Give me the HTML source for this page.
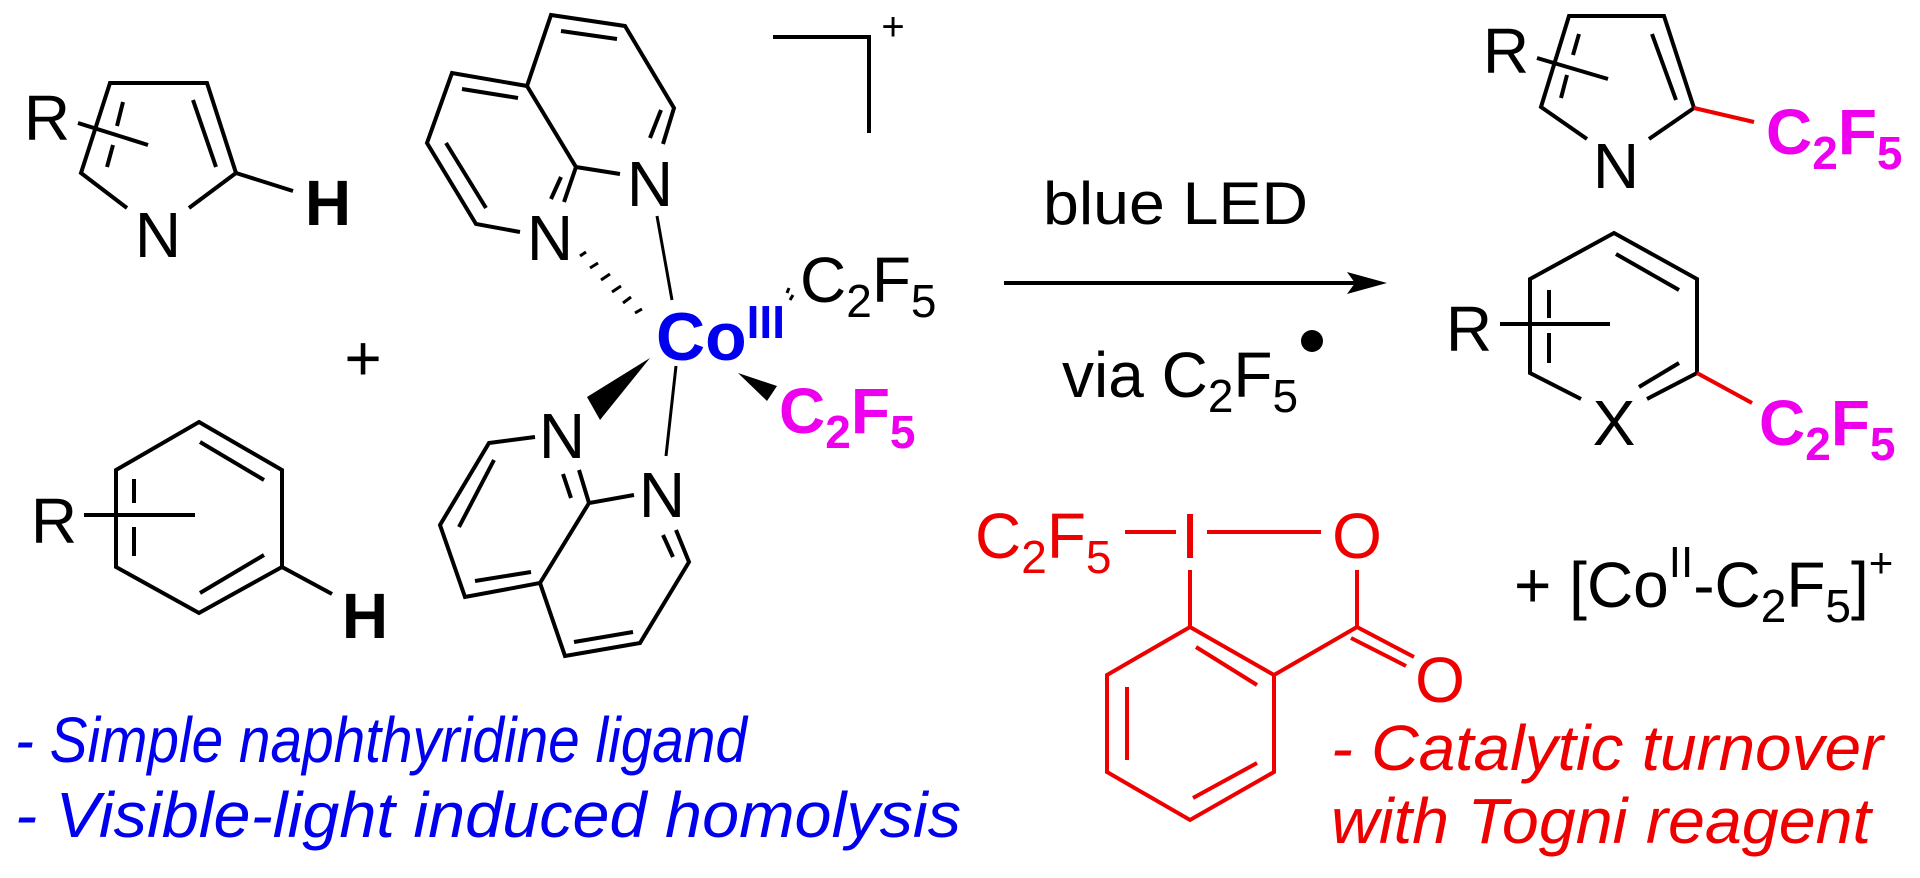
<!DOCTYPE html>
<html><head><meta charset="utf-8"><style>
html,body{margin:0;padding:0;background:#fff;}
svg{display:block;}
text{font-family:"Liberation Sans",Arial,sans-serif;}
</style></head><body>
<svg width="1920" height="878" viewBox="0 0 1920 878" xmlns="http://www.w3.org/2000/svg">
<g stroke="#000" stroke-width="4" fill="none" stroke-linecap="butt">
<!-- reactant pyrrole -->
<polyline points="127,208 81,173 110,83 207,83 236,173 189,208"/>
<line x1="123" y1="102" x2="117" y2="126"/><line x1="113" y1="145" x2="107" y2="167"/>
<line x1="193" y1="100" x2="216" y2="167"/>
<line x1="78" y1="123" x2="148" y2="145"/>
<line x1="236" y1="173" x2="293" y2="191"/>
<!-- reactant benzene -->
<polygon points="199,422 282,470 282,567 199,613 116,567 116,470"/>
<line x1="200" y1="442" x2="264" y2="480"/><line x1="264" y1="555" x2="200" y2="593"/>
<line x1="134" y1="479" x2="134" y2="503"/><line x1="134" y1="527" x2="134" y2="556"/>
<line x1="84" y1="515" x2="195" y2="515"/>
<line x1="282" y1="567" x2="332" y2="594"/>
<!-- upper naphthyridine -->
<polyline points="620,174 576,167 527,86 551,15 625,26 674,108 663,144"/>
<polyline points="576,167 564,202"/>
<polyline points="527,86 452,73 427,143 476,224 520,232"/>
<line x1="561" y1="31" x2="617" y2="39"/>
<line x1="661" y1="110" x2="650" y2="138"/>
<line x1="462" y1="89" x2="518" y2="98"/>
<line x1="446" y1="143" x2="486" y2="208"/>
<line x1="561" y1="177" x2="551" y2="199"/>
<!-- lower naphthyridine -->
<polyline points="535,437 489,443 440,525 465,597 540,583 589,503 634,495"/>
<line x1="589" y1="503" x2="579" y2="470"/>
<line x1="563" y1="474" x2="571" y2="498"/>
<polyline points="540,583 565,656 640,643 689,562 676,530"/>
<line x1="663" y1="535" x2="673" y2="557"/>
<line x1="633" y1="632" x2="574" y2="642"/>
<line x1="494" y1="460" x2="459" y2="527"/>
<line x1="475" y1="581" x2="531" y2="572"/>
<!-- Co bonds -->
<line x1="657" y1="216" x2="672" y2="300" stroke-width="3"/>
<line x1="676" y1="366" x2="666" y2="456" stroke-width="3"/>
<!-- arrow -->
<line x1="1004" y1="283" x2="1360" y2="283"/>
<!-- product pyrrole -->
<polyline points="1587,139 1541,107 1569,16 1664,16 1694,108 1649,139"/>
<line x1="1579" y1="34" x2="1573" y2="55"/><line x1="1567" y1="75" x2="1561" y2="98"/>
<line x1="1652" y1="34" x2="1676" y2="100"/>
<line x1="1537" y1="58" x2="1608" y2="79"/>
<!-- product benzene -->
<polyline points="1581,399 1530,373 1530,279 1614,233 1697,279 1697,373 1647,399"/>
<line x1="1616" y1="254" x2="1679" y2="290"/>
<line x1="1679" y1="363" x2="1639" y2="387"/>
<line x1="1549" y1="290" x2="1549" y2="318"/><line x1="1549" y1="333" x2="1549" y2="363"/>
<line x1="1500" y1="324" x2="1610" y2="324"/>
</g>
<!-- hashed bond N2-Co -->
<g stroke="#000" stroke-width="3">
<line x1="580" y1="256" x2="586" y2="252"/>
<line x1="590" y1="268" x2="598" y2="263"/>
<line x1="601" y1="280" x2="610" y2="274"/>
<line x1="612" y1="292" x2="621" y2="286"/>
<line x1="623" y1="303" x2="631" y2="297"/>
<line x1="635" y1="313" x2="642" y2="309"/>
<line x1="789" y1="288" x2="787" y2="293"/>
<line x1="793" y1="295" x2="790" y2="300"/>
</g>
<!-- wedges -->
<polygon points="650,358 587,397 600,420" fill="#000"/>
<polygon points="738,373 777,386 767,401" fill="#000"/>
<polygon points="1387,283 1347,272 1355,283 1347,294" fill="#000"/>
<!-- charge bracket -->
<polyline points="773,37 869,37 869,133" stroke="#000" stroke-width="4" fill="none"/>
<!-- red bonds -->
<g stroke="#e00" stroke-width="4" fill="none">
<line x1="1694" y1="108" x2="1754" y2="122"/>
<line x1="1697" y1="373" x2="1752" y2="403"/>
<!-- Togni -->
<line x1="1125" y1="532" x2="1176" y2="532"/>
<line x1="1207" y1="532" x2="1321" y2="532"/>
<line x1="1190" y1="570" x2="1190" y2="627"/>
<line x1="1357" y1="570" x2="1357" y2="627"/>
<polygon points="1190,627 1274,675 1274,772 1190,820 1107,772 1107,675"/>
<line x1="1196" y1="647" x2="1257" y2="685"/>
<line x1="1127" y1="687" x2="1127" y2="760"/>
<line x1="1257" y1="763" x2="1193" y2="798"/>
<line x1="1274" y1="675" x2="1357" y2="627"/>
<line x1="1357" y1="627" x2="1414" y2="657"/>
<line x1="1351" y1="638" x2="1406" y2="666"/>
</g>
<circle cx="1312" cy="341" r="11" fill="#000"/>
<!-- labels -->
<g font-size="64" fill="#000">
<text x="47" y="140" text-anchor="middle">R</text>
<text x="158" y="257" text-anchor="middle">N</text>
<text x="328" y="225" text-anchor="middle" font-weight="bold">H</text>
<text x="54" y="543" text-anchor="middle">R</text>
<text x="365" y="638" text-anchor="middle" font-weight="bold">H</text>
<text x="363" y="380" text-anchor="middle">+</text>
<text x="650" y="206" text-anchor="middle">N</text>
<text x="550" y="260" text-anchor="middle">N</text>
<text x="562" y="458" text-anchor="middle">N</text>
<text x="662" y="517" text-anchor="middle">N</text>
<text x="893" y="40" text-anchor="middle" font-size="40">+</text>
<text x="800" y="302">C<tspan font-size="46" dy="15">2</tspan><tspan dy="-15">F</tspan><tspan font-size="46" dy="15">5</tspan></text>
<text x="1043" y="224" font-size="60" textLength="265" lengthAdjust="spacingAndGlyphs">blue LED</text>
<text x="1062" y="397">via C<tspan font-size="46" dy="15">2</tspan><tspan dy="-15">F</tspan><tspan font-size="46" dy="15">5</tspan></text>
<text x="1506" y="73" text-anchor="middle">R</text>
<text x="1616" y="188" text-anchor="middle">N</text>
<text x="1469" y="351" text-anchor="middle">R</text>
<text x="1614" y="445" text-anchor="middle">X</text>
<text x="1514" y="607">+ [Co<tspan font-size="44" dy="-30">II</tspan><tspan dy="30">-C</tspan><tspan font-size="46" dy="15">2</tspan><tspan dy="-15">F</tspan><tspan font-size="46" dy="15">5</tspan><tspan dy="-15">]</tspan><tspan font-size="42" dy="-30">+</tspan></text>
</g>
<text x="656" y="360" font-size="68" font-weight="bold" fill="#0000ee">Co<tspan font-size="46" dy="-22">III</tspan></text>
<g font-size="64" font-weight="bold" fill="#ee00ee">
<text x="779" y="433">C<tspan font-size="46" dy="15">2</tspan><tspan dy="-15">F</tspan><tspan font-size="46" dy="15">5</tspan></text>
<text x="1766" y="154">C<tspan font-size="46" dy="15">2</tspan><tspan dy="-15">F</tspan><tspan font-size="46" dy="15">5</tspan></text>
<text x="1759" y="445">C<tspan font-size="46" dy="15">2</tspan><tspan dy="-15">F</tspan><tspan font-size="46" dy="15">5</tspan></text>
</g>
<g font-size="64" fill="#ee0000">
<text x="975" y="558">C<tspan font-size="46" dy="15">2</tspan><tspan dy="-15">F</tspan><tspan font-size="46" dy="15">5</tspan></text>
<text x="1190" y="558" text-anchor="middle">I</text>
<text x="1357" y="558" text-anchor="middle">O</text>
<text x="1440" y="702" text-anchor="middle">O</text>
<text x="1331" y="770" font-style="italic" font-size="64" textLength="552" lengthAdjust="spacingAndGlyphs">- Catalytic turnover</text>
<text x="1331" y="843" font-style="italic" font-size="64" textLength="540" lengthAdjust="spacingAndGlyphs">with Togni reagent</text>
</g>
<g font-size="64" font-style="italic" fill="#0000ee">
<text x="15" y="762" textLength="732" lengthAdjust="spacingAndGlyphs">- Simple naphthyridine ligand</text>
<text x="15" y="837" textLength="946" lengthAdjust="spacingAndGlyphs">- Visible-light induced homolysis</text>
</g>
</svg>
</body></html>
